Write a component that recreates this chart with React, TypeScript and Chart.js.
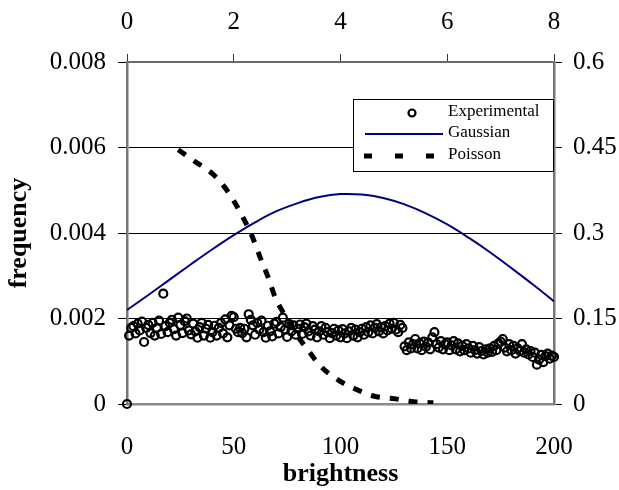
import { useEffect, useRef } from "react";
import { Chart, registerables } from "chart.js";

Chart.register(...registerables);

// Experimental frequency for brightness 0..200 (step 1)
const expFreq = [
  0, 0.0016, 0.00178, 0.00182, 0.00165, 0.00188, 0.00172, 0.00193, 0.00145, 0.00178,
  0.00185, 0.00166, 0.0019, 0.0016, 0.00178, 0.00195, 0.00164, 0.00258, 0.00182, 0.00168,
  0.0019, 0.00197, 0.00175, 0.0016, 0.00202, 0.00185, 0.00166, 0.00194, 0.002, 0.00172,
  0.00163, 0.00188, 0.0017, 0.00155, 0.0018, 0.0019, 0.0016, 0.00176, 0.00185, 0.00155,
  0.00168, 0.00183, 0.0016, 0.00178, 0.0019, 0.00165, 0.00198, 0.00156, 0.00184, 0.00206,
  0.00203, 0.00176, 0.00168, 0.00178, 0.00166, 0.00176, 0.00156, 0.0021, 0.00197, 0.00184,
  0.00162, 0.0019, 0.00174, 0.00195, 0.00168, 0.00155, 0.00183, 0.0017, 0.00158, 0.00188,
  0.00192, 0.00165, 0.0018, 0.00202, 0.00174, 0.00157, 0.00187, 0.0017, 0.00184, 0.00162,
  0.00176, 0.00186, 0.00164, 0.0018, 0.00188, 0.0017, 0.0016, 0.00182, 0.00174, 0.00156,
  0.0017, 0.00182, 0.00162, 0.00178, 0.00168, 0.00154, 0.00166, 0.00176, 0.0016, 0.00172,
  0.00156, 0.00175, 0.00165, 0.00154, 0.0017, 0.00178, 0.0016, 0.00174, 0.00156, 0.00168,
  0.00176, 0.00162, 0.0018, 0.00168, 0.00184, 0.00165, 0.00178, 0.00187, 0.0017, 0.0018,
  0.00165, 0.00182, 0.00172, 0.00188, 0.00176, 0.0019, 0.00174, 0.00168, 0.00185, 0.00178,
  0.00135, 0.00126, 0.00144, 0.0013, 0.0014, 0.00152, 0.0013, 0.00142, 0.00126, 0.00146,
  0.00134, 0.00144, 0.00128, 0.00156, 0.00168, 0.0014, 0.00132, 0.00147, 0.00128, 0.0014,
  0.00144, 0.00126, 0.00137, 0.00147, 0.00128, 0.00142, 0.00123, 0.00136, 0.00126, 0.0014,
  0.0013, 0.0012, 0.00136, 0.00126, 0.00118, 0.00133, 0.00124, 0.00116, 0.00128, 0.0012,
  0.0013, 0.00122, 0.00136, 0.00126, 0.00142, 0.00146, 0.00152, 0.00132, 0.00123, 0.0014,
  0.00126, 0.00136, 0.00118, 0.0013, 0.00124, 0.0014, 0.0012, 0.00128, 0.00116, 0.00124,
  0.0011, 0.0012, 0.00092, 0.00104, 0.00115, 0.00098, 0.00112, 0.00118, 0.00106, 0.00113,
  0.0011,
];

const gaussBrightness = [0, 10, 20, 30, 40, 50, 60, 70, 80, 90, 100, 110, 120, 130, 140, 150, 160, 170, 180, 190, 200];
const gaussFreq = [
  0.0022, 0.00255, 0.00291, 0.00327, 0.00362, 0.00395, 0.00425, 0.00451, 0.0047, 0.00484,
  0.00491, 0.0049, 0.00482, 0.00467, 0.00446, 0.0042, 0.00389, 0.00355, 0.00318, 0.0028, 0.0024,
];

// Poisson curve on top (0..8) and right (0..0.6) axes
const poissonX = [0.96, 1.31, 1.59, 1.8, 1.99, 2.18, 2.35, 2.5, 2.65, 2.78, 2.93, 3.15, 3.38, 3.62, 3.96, 4.31, 4.62, 5.03, 5.37, 5.74];
const poissonY = [0.446, 0.423, 0.405, 0.384, 0.358, 0.326, 0.293, 0.256, 0.221, 0.186, 0.16, 0.125, 0.096, 0.067, 0.042, 0.025, 0.014, 0.009, 0.004, 0.002];

const bottomTicks = [0, 50, 100, 150, 200];
const bottomLabels = ["0", "50", "100", "150", "200"];
const topTicks = [0, 2, 4, 6, 8];
const topLabels = ["0", "2", "4", "6", "8"];
const leftTicks = [0, 0.002, 0.004, 0.006, 0.008];
const leftLabels = ["0", "0.002", "0.004", "0.006", "0.008"];
const rightTicks = [0, 0.15, 0.3, 0.45, 0.6];
const rightLabels = ["0", "0.15", "0.3", "0.45", "0.6"];
const legendLabels = ["Experimental", "Gaussian", "Poisson"];

const SERIF = "'Liberation Serif', 'Times New Roman', serif";
const GAUSS_COLOR = "#000080";

const fixTicks = (vals: number[]) => (s: any) => {
  s.ticks = vals.map((v) => ({ value: v }));
};
const labelCb = (labels: string[]) => (_v: any, i: number) => labels[i];

const legendPlugin = {
  id: "boxLegend",
  afterDraw(chart: any) {
    const ctx = chart.ctx as CanvasRenderingContext2D;
    const ca = chart.chartArea;
    const x0 = 353;
    const y0 = ca.top + 37;
    const w = ca.right - 1 - x0;
    const h = 72;
    ctx.save();
    ctx.fillStyle = "#ffffff";
    ctx.fillRect(x0, y0, w, h);
    ctx.strokeStyle = "#000000";
    ctx.lineWidth = 1;
    ctx.strokeRect(x0 + 0.5, y0 + 0.5, w, h);
    const rows = [y0 + 14, y0 + 35, y0 + 57];
    // Experimental marker
    ctx.beginPath();
    ctx.arc(412, rows[0], 3.5, 0, Math.PI * 2);
    ctx.lineWidth = 2.2;
    ctx.strokeStyle = "#000";
    ctx.stroke();
    // Gaussian line
    ctx.beginPath();
    ctx.moveTo(365, rows[1]);
    ctx.lineTo(443, rows[1]);
    ctx.strokeStyle = GAUSS_COLOR;
    ctx.lineWidth = 2;
    ctx.stroke();
    // Poisson dashes
    ctx.fillStyle = "#000";
    [368, 399, 430].forEach((cx) => ctx.fillRect(cx - 4, rows[2] - 2.5, 8, 5));
    ctx.font = `17px ${SERIF}`;
    ctx.textBaseline = "middle";
    ctx.textAlign = "left";
    ctx.fillStyle = "#000";
    legendLabels.forEach((t, i) => ctx.fillText(t, 448, rows[i] - 1));
    ctx.restore();
  },
};

export default function App() {
  const ref = useRef<HTMLCanvasElement | null>(null);
  useEffect(() => {
    document.body.style.margin = "0";
    const canvas = ref.current;
    if (!canvas) return;
    const tickFont = { family: SERIF, size: 25 };
    const titleFont = { family: SERIF, size: 26, weight: "bold" as const };
    const chart = new Chart(canvas, {
      type: "scatter",
      data: {
        datasets: [
          {
            label: "Experimental",
            data: expFreq.map((f, i) => ({ x: i, y: f })),
            xAxisID: "x",
            yAxisID: "y",
            pointStyle: "circle",
            pointRadius: 4,
            pointBorderWidth: 2.2,
            borderColor: "#000",
            backgroundColor: "rgba(0,0,0,0)",
            showLine: false,
            clip: false as any,
            order: 1,
          },
          {
            label: "Gaussian",
            type: "line",
            data: gaussBrightness.map((b, i) => ({ x: b, y: gaussFreq[i] })),
            xAxisID: "x",
            yAxisID: "y",
            borderColor: GAUSS_COLOR,
            borderWidth: 2,
            pointRadius: 0,
            tension: 0.4,
            fill: false,
            order: 2,
          },
          {
            label: "Poisson",
            type: "line",
            data: poissonX.map((x, i) => ({ x, y: poissonY[i] })),
            xAxisID: "x2",
            yAxisID: "y2",
            borderColor: "#000",
            borderWidth: 5,
            borderDash: [9, 10],
            borderCapStyle: "butt",
            pointRadius: 0,
            cubicInterpolationMode: "monotone",
            fill: false,
            order: 0,
          },
        ] as any,
      },
      plugins: [legendPlugin],
      options: {
        responsive: false,
        animation: false,
        layout: { padding: 0 },
        plugins: { legend: { display: false }, tooltip: { enabled: false } },
        scales: {
          x: {
            type: "linear",
            position: "bottom",
            min: 0,
            max: 200,
            afterBuildTicks: fixTicks(bottomTicks),
            afterFit: (s: any) => {
              s.height = 86;
            },
            ticks: { callback: labelCb(bottomLabels), font: tickFont, color: "#000", padding: 20, maxRotation: 0 },
            grid: { display: false },
            border: { display: true, color: "#8a8a8a", width: 2.5 },
            title: { display: true, text: "brightness", font: titleFont, color: "#000", padding: { top: 0, bottom: 0 } },
          },
          x2: {
            type: "linear",
            position: "top",
            min: 0,
            max: 8,
            afterBuildTicks: fixTicks(topTicks),
            afterFit: (s: any) => {
              s.height = 62;
            },
            ticks: { callback: labelCb(topLabels), font: tickFont, color: "#000", padding: 17, maxRotation: 0 },
            grid: { drawOnChartArea: false, drawTicks: true, tickLength: 8, color: "#333", tickColor: "#333", lineWidth: 1 },
            border: { display: true, color: "#6a6a6a", width: 2 },
          },
          y: {
            type: "linear",
            position: "left",
            min: 0,
            max: 0.008,
            afterBuildTicks: fixTicks(leftTicks),
            afterFit: (s: any) => {
              s.width = 127;
            },
            ticks: { callback: labelCb(leftLabels), font: tickFont, color: "#000", padding: 12 },
            grid: {
              drawTicks: true,
              tickLength: 9,
              color: (c: any) => (c.index === 0 || c.index === leftTicks.length - 1 ? "rgba(0,0,0,0)" : "#000"),
              tickColor: "#000",
              lineWidth: 1,
            },
            border: { display: true, color: "#777", width: 2.5 },
            title: { display: true, text: "frequency", font: titleFont, color: "#000", padding: { top: 4, bottom: 0 } },
          },
          y2: {
            type: "linear",
            position: "right",
            min: 0,
            max: 0.6,
            afterBuildTicks: fixTicks(rightTicks),
            afterFit: (s: any) => {
              s.width = 65;
            },
            ticks: { callback: labelCb(rightLabels), font: tickFont, color: "#000", padding: 11 },
            grid: { drawOnChartArea: false, drawTicks: true, tickLength: 8, color: "#000", tickColor: "#000", lineWidth: 1 },
            border: { display: true, color: "#777", width: 2.5 },
          },
        },
      } as any,
    });
    return () => chart.destroy();
  }, []);
  return (
    <div style={{ width: 619, height: 490, background: "#fff" }}>
      <canvas ref={ref} width={619} height={490} style={{ display: "block" }} />
    </div>
  );
}
